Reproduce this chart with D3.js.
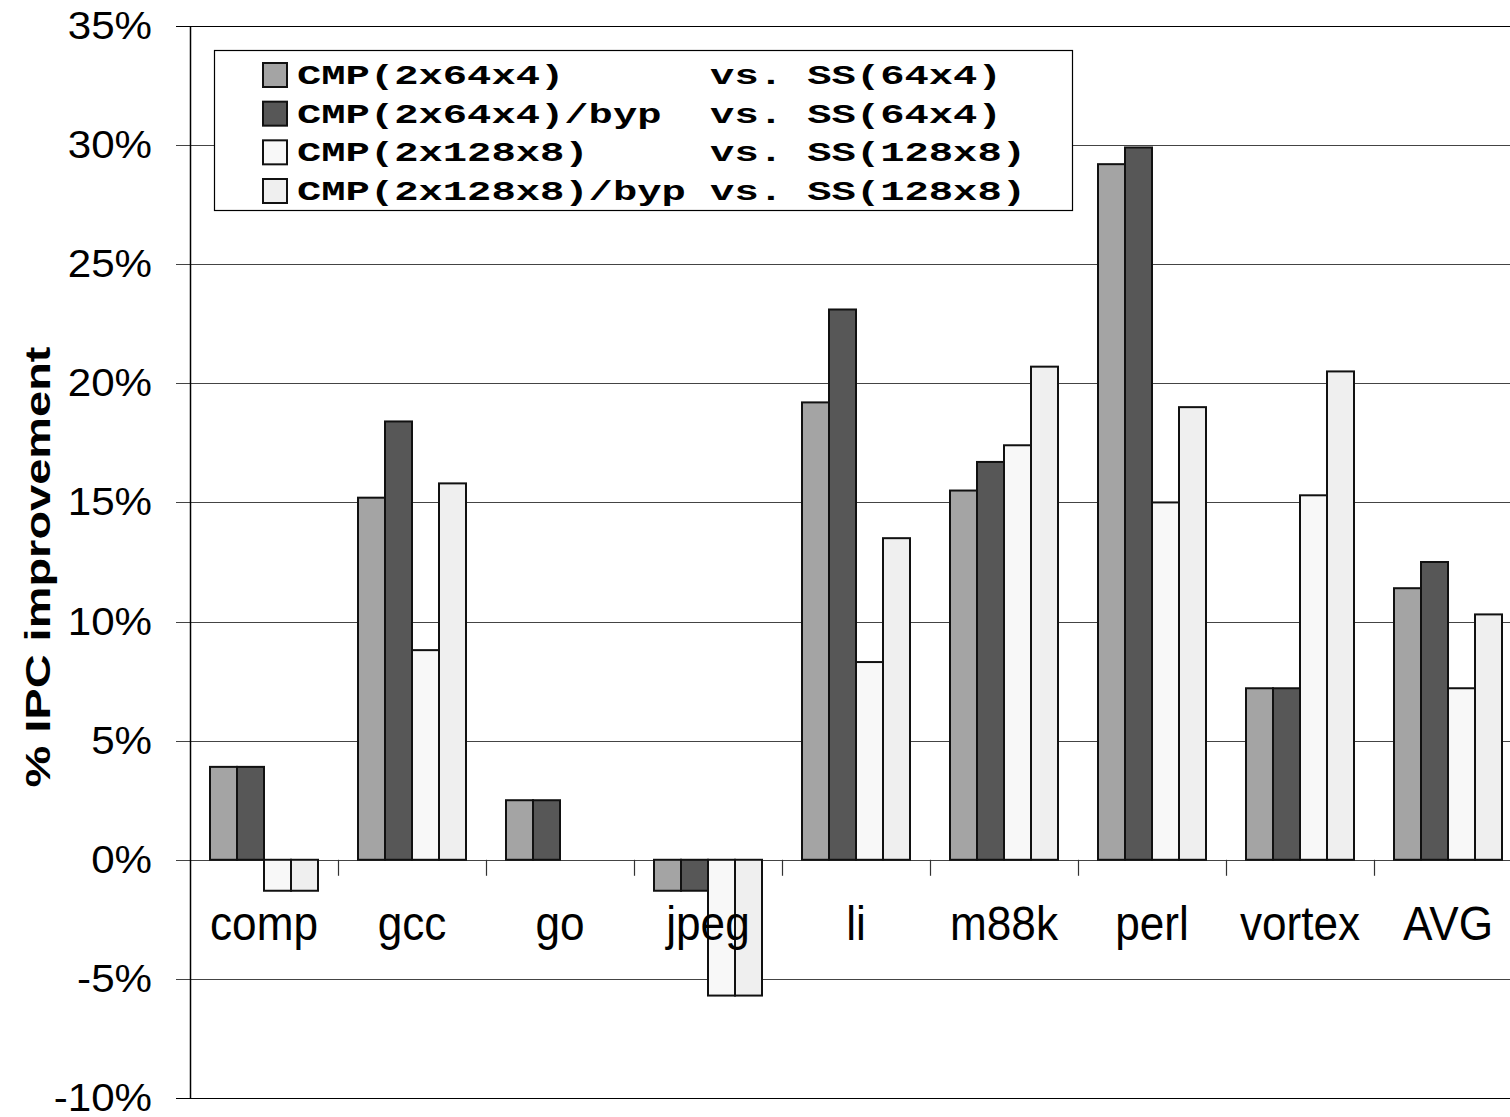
<!DOCTYPE html>
<html>
<head>
<meta charset="utf-8">
<script src="https://cdn.jsdelivr.net/npm/d3@7"></script>
<style>
  html, body { margin: 0; padding: 0; background: #fff; overflow: hidden; }
  svg { display: block; }
</style>
</head>
<body>
<svg id="chart" width="1510" height="1117"></svg>
<script>
// Benchmarks on the x axis
const categories = ["comp", "gcc", "go", "jpeg", "li", "m88k", "perl", "vortex", "AVG"];

// IPC improvement (%) per configuration
const cmp64    = [3.9, 15.2, 2.5, -1.3, 19.2, 15.5, 29.2, 7.2, 11.4];
const cmp64byp = [3.9, 18.4, 2.5, -1.3, 23.1, 16.7, 29.9, 7.2, 12.5];
const cmp128    = [-1.3, 8.8, 0, -5.7, 8.3, 17.4, 15.0, 15.3, 7.2];
const cmp128byp = [-1.3, 15.8, 0, -5.7, 13.5, 20.7, 19.0, 20.5, 10.3];

const legendLabels = [
  "CMP(2x64x4)      vs. SS(64x4)",
  "CMP(2x64x4)/byp  vs. SS(64x4)",
  "CMP(2x128x8)     vs. SS(128x8)",
  "CMP(2x128x8)/byp vs. SS(128x8)"
];

const yTicks = [-10, -5, 0, 5, 10, 15, 20, 25, 30, 35];
const yTitle = "% IPC improvement";

const seriesValues = [cmp64, cmp64byp, cmp128, cmp128byp];
const fills = ["#a4a4a4", "#575757", "#f8f8f8", "#efefef"];

const svg = d3.select("#chart");

const plot = { left: 190, top: 26, bottom: 1098, right: 1522 };
const y = d3.scaleLinear().domain([-10, 35]).range([plot.bottom, plot.top]);
const x = d3.scaleBand().domain(categories).range([plot.left, plot.right]).paddingInner(0).paddingOuter(0);
const xs = d3.scaleBand().domain(d3.range(seriesValues.length))
  .range([20, x.bandwidth() - 20]).padding(0);

// horizontal gridlines with the left tick stubs
svg.append("g").selectAll("line").data(yTicks).join("line")
  .attr("x1", plot.left - 14).attr("x2", 1510)
  .attr("y1", d => Math.round(y(d)) + 0.5).attr("y2", d => Math.round(y(d)) + 0.5)
  .attr("stroke", d => d === -10 || d === 35 ? "#000" : "#444")
  .attr("stroke-width", 1.2);

// y axis line
svg.append("line")
  .attr("x1", plot.left + 0.5).attr("x2", plot.left + 0.5)
  .attr("y1", y(35)).attr("y2", y(-10))
  .attr("stroke", "#000").attr("stroke-width", 1.5);

// y tick labels
svg.append("g").selectAll("text").data(yTicks).join("text")
  .attr("transform", d => `translate(152,${y(d) + 13}) scale(1.08,1)`)
  .attr("text-anchor", "end")
  .attr("font-family", "Arial, 'Liberation Sans', sans-serif")
  .attr("font-size", 39)
  .attr("fill", "#000")
  .text(d => d + "%");

// category separator ticks below the zero line
svg.append("g").selectAll("line").data(categories.slice(1)).join("line")
  .attr("x1", d => Math.round(x(d)) + 0.5).attr("x2", d => Math.round(x(d)) + 0.5)
  .attr("y1", y(0)).attr("y2", y(0) + 16)
  .attr("stroke", "#333").attr("stroke-width", 1.2);

// bars
const groups = svg.append("g").selectAll("g").data(categories).join("g")
  .attr("transform", d => `translate(${x(d)},0)`);

groups.selectAll("rect")
  .data((c, i) => seriesValues.map((s, k) => ({ k, v: s[i] })).filter(d => d.v !== 0))
  .join("rect")
  .attr("x", d => xs(d.k))
  .attr("width", xs.bandwidth())
  .attr("y", d => y(Math.max(0, d.v)))
  .attr("height", d => Math.abs(y(d.v) - y(0)))
  .attr("fill", d => fills[d.k])
  .attr("stroke", "#111")
  .attr("stroke-width", 2);

// category labels
svg.append("g").selectAll("text").data(categories).join("text")
  .attr("transform", d => `translate(${x(d) + x.bandwidth() / 2},940) scale(0.92,1)`)
  .attr("text-anchor", "middle")
  .attr("font-family", "Arial, 'Liberation Sans', sans-serif")
  .attr("font-size", 48)
  .attr("fill", "#000")
  .text(d => d);

// y axis title
svg.append("text")
  .attr("transform", "translate(50,567) rotate(-90)")
  .attr("text-anchor", "middle")
  .attr("font-family", "Arial, 'Liberation Sans', sans-serif")
  .attr("font-weight", "bold")
  .attr("font-size", 35)
  .attr("textLength", 441)
  .attr("lengthAdjust", "spacingAndGlyphs")
  .attr("fill", "#000")
  .text(yTitle);

// legend
const legend = svg.append("g");
legend.append("rect")
  .attr("x", 214.5).attr("y", 50.5).attr("width", 858).attr("height", 160)
  .attr("fill", "#fff").attr("stroke", "#000").attr("stroke-width", 1.2);

const rowY = d3.scalePoint().domain(d3.range(legendLabels.length)).range([75, 191]);
const charW = 24.3;

const rows = legend.selectAll("g.row").data(legendLabels).join("g")
  .attr("class", "row")
  .attr("transform", (d, i) => `translate(0,${rowY(i)})`);

rows.append("rect")
  .attr("x", 263).attr("y", -12).attr("width", 24).attr("height", 24)
  .attr("fill", (d, i) => fills[i])
  .attr("stroke", "#111").attr("stroke-width", 2);

rows.append("text")
  .attr("x", 297).attr("y", 9)
  .attr("font-family", "'Courier New', 'Liberation Mono', monospace")
  .attr("font-weight", "bold")
  .attr("font-size", 27)
  .style("white-space", "pre")
  .attr("textLength", d => d.length * charW)
  .attr("lengthAdjust", "spacingAndGlyphs")
  .attr("fill", "#000")
  .text(d => d);
</script>
</body>
</html>
